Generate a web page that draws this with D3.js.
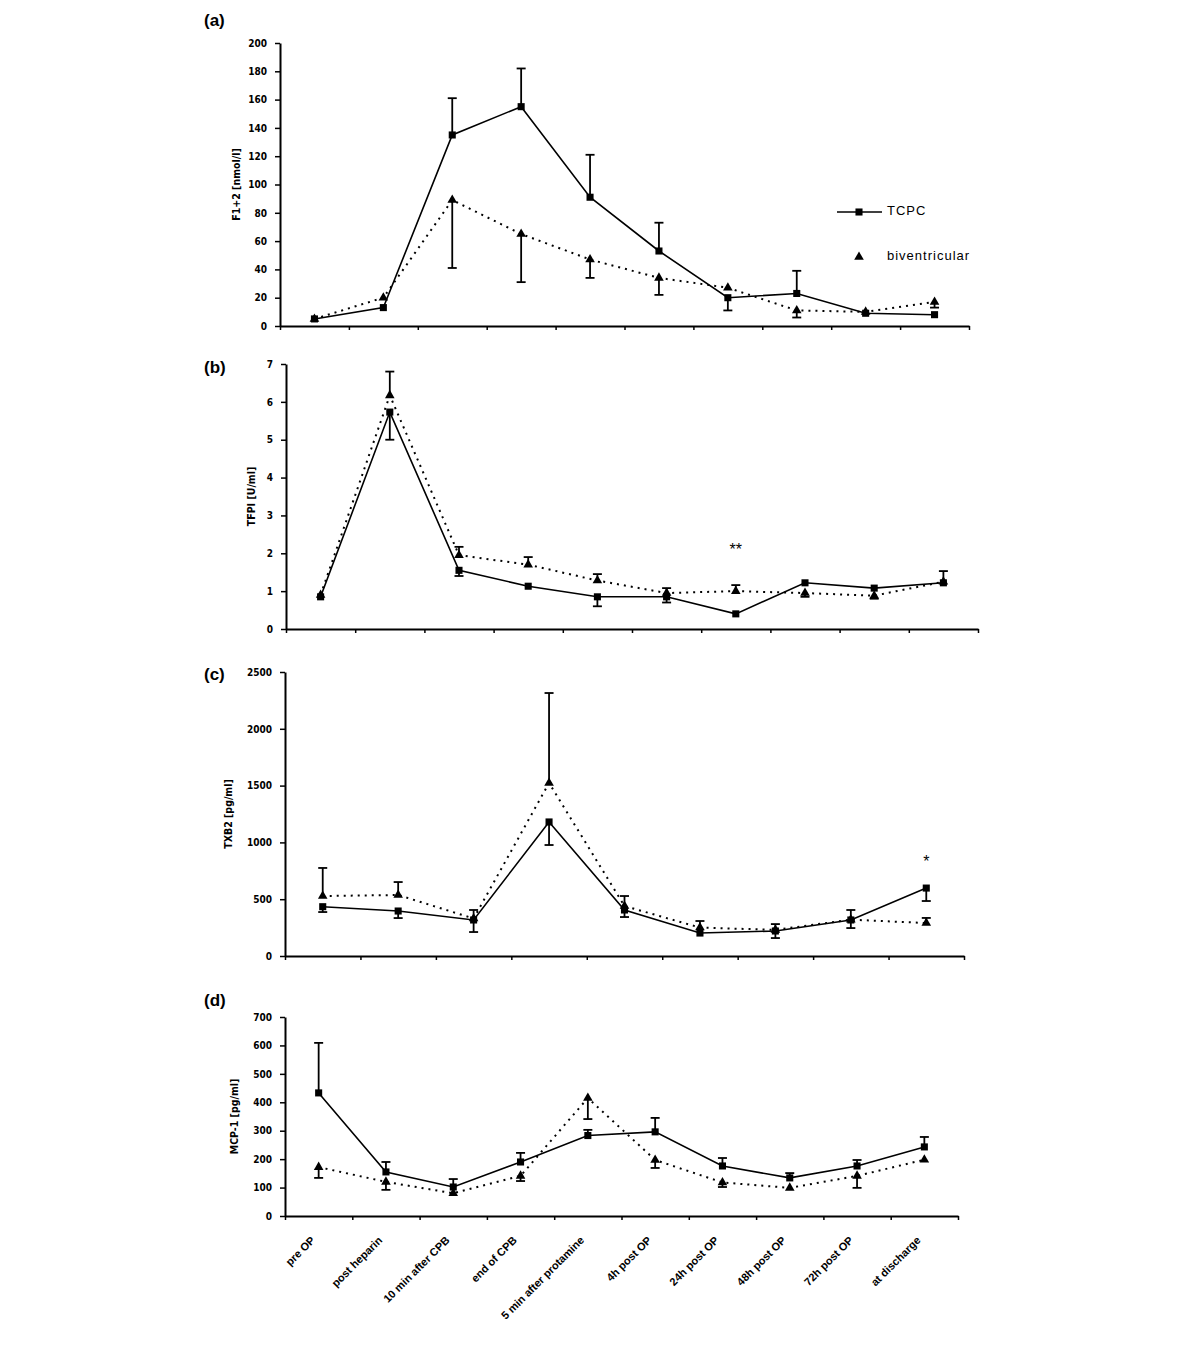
<!DOCTYPE html>
<html><head><meta charset="utf-8">
<script src="https://cdn.jsdelivr.net/npm/d3@7"></script>
<style>
body{margin:0;background:#fff;}
svg{display:block;}
.tick text{font-family:"DejaVu Sans Condensed","Liberation Sans Narrow","Liberation Sans",sans-serif;font-weight:bold;font-size:10px;fill:#000;}
</style></head>
<body>
<svg id="chart" width="1200" height="1354"></svg>
<script>
// ---------- DATA ----------
const categories = ["pre OP","post heparin","10 min after CPB","end of CPB","5 min after protamine","4h post OP","24h post OP","48h post OP","72h post OP","at discharge"];
const seriesNames = ["TCPC","biventricular"];

// (a) F1+2 [nmol/l]
const f12Tcpc    = [5,13,135,155,91,53,20,23,9,8];
const f12TcpcErr = [null,null,161,182,121,73,11,39,null,null];
const f12Biv     = [5,20,89,65,47,34,27,11,10,17];
const f12BivErr  = [null,null,41,31,34,22,null,6,null,13];
const f12Ticks   = [0,20,40,60,80,100,120,140,160,180,200];

// (b) TFPI [U/ml]
const tfpiTcpc    = [0.85,5.73,1.55,1.13,0.85,0.85,0.4,1.22,1.08,1.22];
const tfpiTcpcErr = [null,5.0,1.4,null,0.6,0.7,null,null,null,1.53];
const tfpiBiv     = [0.9,6.17,1.95,1.7,1.28,0.95,1.0,0.95,0.88,1.25];
const tfpiBivErr  = [null,6.8,2.17,1.9,1.45,1.08,1.16,0.85,0.8,null];
const tfpiTicks   = [0,1,2,3,4,5,6,7];

// (c) TXB2 [pg/ml] (nine time points)
const txb2Tcpc    = [434,396,317,1180,405,202,220,317,598];
const txb2TcpcErr = [387,334,211,977,343,308,158,405,484];
const txb2Biv     = [528,537,330,1523,440,250,230,320,290];
const txb2BivErr  = [775,651,405,2315,528,null,281,246,335];
const txb2Ticks   = [0,500,1000,1500,2000,2500];

// (d) MCP-1 [pg/ml]
const mcpTcpc    = [433,155,102,190,283,296,176,134,176,243];
const mcpTcpcErr = [609,190,130,222,303,345,204,151,197,278];
const mcpBiv     = [172,120,80,141,415,197,118,99,141,198];
const mcpBivErr  = [134,92,null,123,341,169,102,null,99,null];
const mcpTicks   = [0,100,200,300,400,500,600,700];

// ---------- LAYOUT ----------
const panels = [
  {tag:"(a)", title:"F1+2 [nmol/l]", tcpc:f12Tcpc, tcpcErr:f12TcpcErr, biv:f12Biv, bivErr:f12BivErr, ticks:f12Ticks,
   x0:280, x1:969, yb:326, yt:43, tagY:26, titleX:237, legend:true},
  {tag:"(b)", title:"TFPI [U/ml]", tcpc:tfpiTcpc, tcpcErr:tfpiTcpcErr, biv:tfpiBiv, bivErr:tfpiBivErr, ticks:tfpiTicks,
   x0:286, x1:978, yb:629, yt:364, tagY:373, titleX:252,
   notes:[{i:6, v:1.95, t:"**"}]},
  {tag:"(c)", title:"TXB2 [pg/ml]", tcpc:txb2Tcpc, tcpcErr:txb2TcpcErr, biv:txb2Biv, bivErr:txb2BivErr, ticks:txb2Ticks,
   x0:285, x1:964, yb:956, yt:672, tagY:680, titleX:229,
   notes:[{i:8, v:780, t:"*"}]},
  {tag:"(d)", title:"MCP-1 [pg/ml]", tcpc:mcpTcpc, tcpcErr:mcpTcpcErr, biv:mcpBiv, bivErr:mcpBivErr, ticks:mcpTicks,
   x0:285, x1:958, yb:1216, yt:1017, tagY:1006, titleX:235, xlabels:true}
];

const svg = d3.select("#chart");
const sq = d3.symbol().type(d3.symbolSquare).size(50);
const tri = d3.symbol().type(d3.symbolTriangle).size(40);

panels.forEach(p => {
  const n = p.tcpc.length;
  const idx = d3.range(n);
  const xEdge = d3.scaleLinear().domain([0,n]).range([p.x0,p.x1]);
  const x = d3.scalePoint().domain(idx).range([p.x0,p.x1]).padding(0.5);
  const y = d3.scaleLinear().domain([0, d3.max(p.ticks)]).range([p.yb,p.yt]);
  const g = svg.append("g");

  // axes
  const ya = g.append("g").attr("transform",`translate(${p.x0},0)`)
    .call(d3.axisLeft(y).tickValues(p.ticks).tickFormat(d=>String(d)).tickSize(5).tickPadding(8).tickSizeOuter(0));
  const xa = g.append("g").attr("transform",`translate(0,${p.yb})`)
    .call(d3.axisBottom(xEdge).tickValues(d3.range(0,n+1)).tickSize(4).tickFormat("").tickSizeOuter(0));
  [ya,xa].forEach(a=>{a.select(".domain").attr("stroke","#000").attr("stroke-width",2);
    a.selectAll(".tick line").attr("stroke","#000").attr("stroke-width",1.5);});

  // panel tag
  g.append("text").attr("x",204).attr("y",p.tagY).text(p.tag)
    .style("font-family","Liberation Sans, Arial, sans-serif").style("font-weight","bold").style("font-size","17px");
  // y title
  g.append("text").attr("transform",`translate(${p.titleX},${(p.yb+p.yt)/2}) rotate(-90)`)
    .attr("text-anchor","middle").attr("dominant-baseline","middle").text(p.title)
    .style("font-family","DejaVu Sans Condensed, Liberation Sans, sans-serif").style("font-weight","bold").style("font-size","10.5px");

  // lines
  const line = d3.line().x((d,i)=>x(i)).y(d=>y(d));
  g.append("path").datum(p.biv).attr("d",line).attr("fill","none").attr("stroke","#000")
    .attr("stroke-width",2).attr("stroke-dasharray","2,5");
  g.append("path").datum(p.tcpc).attr("d",line).attr("fill","none").attr("stroke","#000").attr("stroke-width",1.6);

  // error bars
  const drawErr = (vals, errs) => {
    idx.forEach(i=>{
      if(errs[i]==null) return;
      const xx = x(i);
      g.append("line").attr("x1",xx).attr("x2",xx).attr("y1",y(vals[i])).attr("y2",y(errs[i]))
        .attr("stroke","#000").attr("stroke-width",1.8);
      g.append("line").attr("x1",xx-4.5).attr("x2",xx+4.5).attr("y1",y(errs[i])).attr("y2",y(errs[i]))
        .attr("stroke","#000").attr("stroke-width",1.8);
    });
  };
  drawErr(p.biv,p.bivErr);
  drawErr(p.tcpc,p.tcpcErr);

  // markers
  g.selectAll(".tri").data(p.biv).join("path").attr("d",tri)
    .attr("transform",(d,i)=>`translate(${x(i)},${y(d)})`).attr("fill","#000");
  g.selectAll(".sq").data(p.tcpc).join("path").attr("d",sq)
    .attr("transform",(d,i)=>`translate(${x(i)},${y(d)})`).attr("fill","#000");

  // significance notes
  (p.notes||[]).forEach(nt=>{
    g.append("text").attr("x",x(nt.i)).attr("y",y(nt.v)).attr("text-anchor","middle").text(nt.t)
      .style("font-family","Liberation Sans, Arial, sans-serif").style("font-size","16px");
  });

  // legend
  if(p.legend){
    const ly1 = 212, ly2 = 257;
    g.append("line").attr("x1",837).attr("x2",882).attr("y1",ly1).attr("y2",ly1).attr("stroke","#000").attr("stroke-width",1.6);
    g.append("path").attr("d",sq).attr("transform",`translate(859,${ly1})`);
    g.append("path").attr("d",tri).attr("transform",`translate(859,${ly2})`);
    [[seriesNames[0],ly1],[seriesNames[1],ly2]].forEach(([t,yy])=>{
      g.append("text").attr("x",887).attr("y",yy).attr("dominant-baseline","middle").text(t)
        .style("font-family","Liberation Sans, Arial, sans-serif").style("font-size","13px").style("letter-spacing","1px");
    });
  }

  // category labels, placed under each time point of this panel
  if(p.xlabels){
    categories.forEach((c,i)=>{
      g.append("text").attr("transform",`translate(${x(i)-3},1241) rotate(-45)`)
        .attr("text-anchor","end").text(c)
        .style("font-family","Liberation Sans, Arial, sans-serif").style("font-weight","bold").style("font-size","11px");
    });
  }
});
</script>
</body></html>
